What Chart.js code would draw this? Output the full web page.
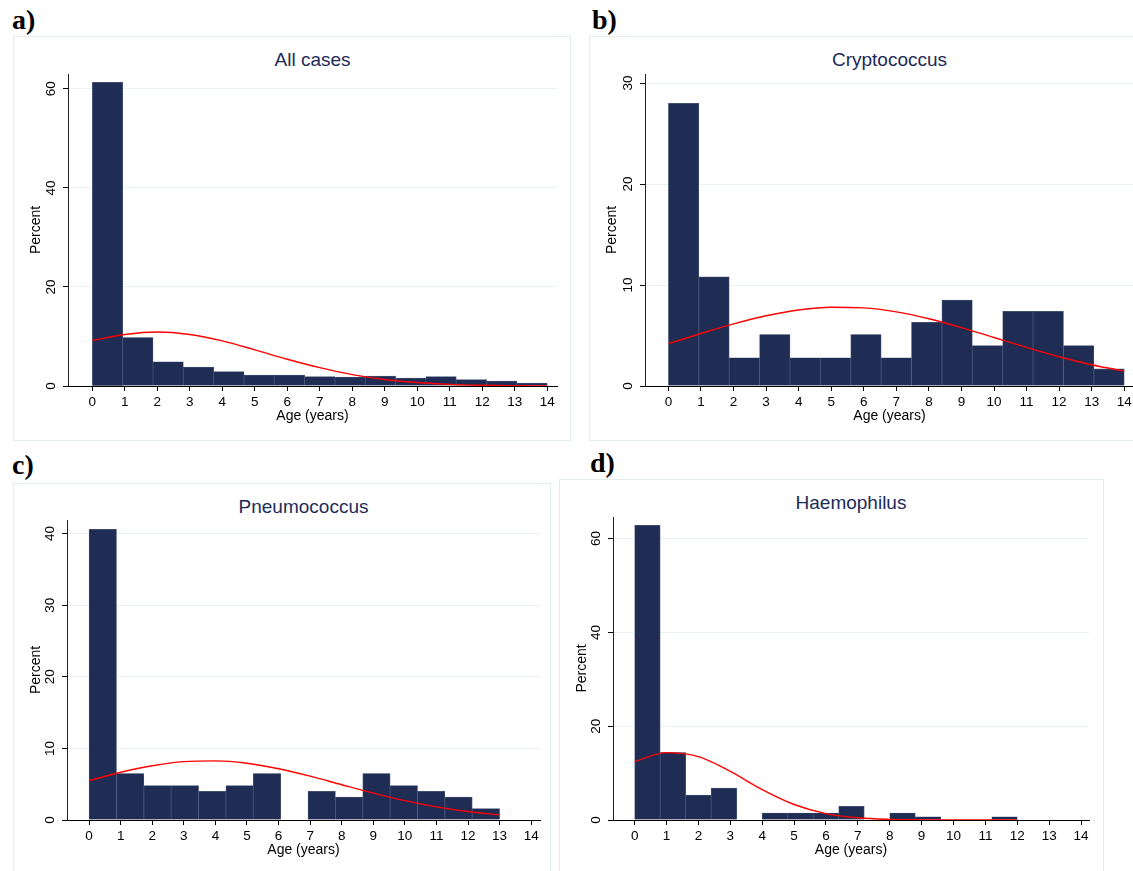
<!DOCTYPE html>
<html lang="en">
<head>
<meta charset="UTF-8">
<title>Age distribution of cases</title>
<script src="https://cdn.jsdelivr.net/npm/chart.js"></script>
<style>
    body { margin: 0; width: 1133px; height: 871px; overflow: hidden; background: #fff; position: relative; font-family: "Liberation Sans", Arial, sans-serif; }
    .frame { position: absolute; border: 1px solid #e3ecec; box-sizing: border-box; }
    .tag { position: absolute; font: bold 28px "Liberation Serif", "Times New Roman", serif; line-height: 28px; color: #000; }
    .title { position: absolute; font-size: 19px; line-height: 22px; color: #1c2b58; text-align: center; white-space: nowrap; }
    canvas { position: absolute; }
</style>
</head>
<body>
<script>
// x ticks (age in years)
const ageTicks = [0, 1, 2, 3, 4, 5, 6, 7, 8, 9, 10, 11, 12, 13, 14];

// percent per bin (15 equal bins from 0 to the oldest age in each group)
const allCasesPct   = [61.3, 9.8, 4.9, 3.8, 2.9, 2.2, 2.2, 1.9, 1.8, 2.0, 1.6, 1.9, 1.3, 1.0, 0.6];
const cryptoPct     = [28.0, 10.8, 2.8, 5.1, 2.8, 2.8, 5.1, 2.8, 6.3, 8.5, 4.0, 7.4, 7.4, 4.0, 1.7];
const pneumoPct     = [40.6, 6.5, 4.8, 4.8, 4.0, 4.8, 6.5, 0, 4.0, 3.2, 6.5, 4.8, 4.0, 3.2, 1.6];
const haemoPct      = [62.8, 14.4, 5.3, 6.8, 0, 1.5, 1.5, 1.5, 2.9, 0, 1.5, 0.7, 0, 0, 0.7];

// oldest age per group (upper edge of the last bin)
const allCasesMax = 14;
const cryptoMax = 14;
const pneumoMax = 13;
const haemoMax = 12;

// normal curve read at each whole year
const allCasesNormal = [9.2, 10.4, 10.9, 10.4, 9.1, 7.3, 5.4, 3.7, 2.3, 1.3, 0.7, 0.33, 0.15, 0.06, 0.02];
const cryptoNormal   = [4.2, 5.2, 6.15, 6.96, 7.53, 7.8, 7.74, 7.34, 6.66, 5.78, 4.8, 3.82, 2.9, 2.11, 1.47];
const pneumoNormal   = [5.5, 6.67, 7.58, 8.15, 8.26, 7.92, 7.16, 6.12, 4.93, 3.76, 2.7, 1.84, 1.18, 0.71];
const haemoNormal    = [12.45, 14.36, 13.51, 10.36, 6.48, 3.31, 1.37, 0.47, 0.13, 0.03, 0.01, 0, 0];

// y ticks
const allCasesTicks = [0, 20, 40, 60];
const cryptoTicks = [0, 10, 20, 30];
const pneumoTicks = [0, 10, 20, 30, 40];
const haemoTicks = [0, 20, 40, 60];

const panels = [
    { tag: 'a)', tagX: 12, tagY: 6, title: 'All cases', titleY: 49, bars: allCasesPct, top: allCasesMax, curve: allCasesNormal, yTicks: allCasesTicks,
      xMin: -0.75, xMax: 14.3, yMax: 63.0, frame: { l: 13, t: 36, r: 571, b: 441 }, area: { l: 68, t: 74, r: 557, b: 386 } },
    { tag: 'b)', tagX: 592, tagY: 6, title: 'Cryptococcus', titleY: 49, bars: cryptoPct, top: cryptoMax, curve: cryptoNormal, yTicks: cryptoTicks,
      xMin: -0.72, xMax: 14.3, yMax: 30.9, frame: { l: 589, t: 36, r: 1160, b: 441 }, area: { l: 645, t: 74, r: 1134, b: 386 } },
    { tag: 'c)', tagX: 12, tagY: 451, title: 'Pneumococcus', titleY: 496, bars: pneumoPct, top: pneumoMax, curve: pneumoNormal, yTicks: pneumoTicks,
      xMin: -0.70, xMax: 14.28, yMax: 41.9, frame: { l: 13, t: 483, r: 551, b: 900 }, area: { l: 67, t: 520, r: 540, b: 820 } },
    { tag: 'd)', tagX: 590, tagY: 449, title: 'Haemophilus', titleY: 492, bars: haemoPct, top: haemoMax, curve: haemoNormal, yTicks: haemoTicks,
      xMin: -0.68, xMax: 14.25, yMax: 64.6, frame: { l: 559, t: 479, r: 1104, b: 900 }, area: { l: 613, t: 517, r: 1089, b: 820 } }
];

Chart.defaults.font.family = '"Liberation Sans", Arial, sans-serif';
Chart.defaults.color = '#000';

const X_AXIS_H = 55;

panels.forEach(p => {
    const f = p.frame, a = p.area;

    const frame = document.createElement('div');
    frame.className = 'frame';
    Object.assign(frame.style, { left: f.l + 'px', top: f.t + 'px', width: (f.r - f.l) + 'px', height: (f.b - f.t) + 'px' });
    document.body.appendChild(frame);

    const tag = document.createElement('div');
    tag.className = 'tag';
    tag.textContent = p.tag;
    Object.assign(tag.style, { left: p.tagX + 'px', top: p.tagY + 'px' });
    document.body.appendChild(tag);

    const title = document.createElement('div');
    title.className = 'title';
    title.textContent = p.title;
    Object.assign(title.style, { left: a.l + 'px', width: (a.r - a.l) + 'px', top: p.titleY + 'px' });
    document.body.appendChild(title);

    const w = f.r - f.l;
    const h = a.b + X_AXIS_H - f.t;
    const canvas = document.createElement('canvas');
    canvas.width = w;
    canvas.height = h;
    Object.assign(canvas.style, { left: f.l + 'px', top: f.t + 'px', width: w + 'px', height: h + 'px' });
    document.body.appendChild(canvas);

    const binW = p.top / p.bars.length;
    const barData = p.bars.map((v, i) => ({ x: (i + 0.5) * binW, y: v }));
    const curveData = p.curve.map((v, i) => ({ x: ageTicks[i], y: v }));

    new Chart(canvas.getContext('2d'), {
        type: 'bar',
        data: {
            datasets: [
                {
                    type: 'line',
                    data: curveData,
                    borderColor: '#ff0000',
                    borderWidth: 1.4,
                    pointRadius: 0,
                    fill: false,
                    cubicInterpolationMode: 'monotone',
                    order: 0
                },
                {
                    data: barData,
                    backgroundColor: '#1f2c54',
                    borderColor: '#4a587a',
                    borderWidth: 0.7,
                    barPercentage: 1,
                    categoryPercentage: 1,
                    order: 1
                }
            ]
        },
        options: {
            responsive: false,
            animation: false,
            layout: { padding: { left: 0, top: a.t - f.t, right: f.r - a.r, bottom: 0 } },
            plugins: { legend: { display: false }, tooltip: { enabled: false } },
            scales: {
                x: {
                    type: 'linear',
                    min: p.xMin,
                    max: p.xMax,
                    offset: false,
                    afterBuildTicks: s => { s.ticks = ageTicks.map(v => ({ value: v })); },
                    afterFit: s => { s.height = X_AXIS_H; },
                    grid: { display: true, drawOnChartArea: false, offset: false, tickLength: 5, tickColor: '#000' },
                    border: { display: true, color: '#000', width: 1 },
                    ticks: { autoSkip: false, maxRotation: 0, padding: 3, color: '#000', font: { size: 13.5 } },
                    title: { display: true, text: 'Age (years)', color: '#000', font: { size: 14 }, padding: { top: 0, bottom: 16 } }
                },
                y: {
                    min: 0,
                    max: p.yMax,
                    afterBuildTicks: s => { s.ticks = p.yTicks.map(v => ({ value: v })); },
                    afterFit: s => { s.width = a.l - f.l; },
                    grid: { color: '#e9f1f2', lineWidth: 1, tickLength: 5, tickColor: '#000' },
                    border: { display: true, color: '#222', width: 1 },
                    ticks: { minRotation: 90, maxRotation: 90, crossAlign: 'center', padding: 4, color: '#000', font: { size: 13.5 } },
                    title: { display: true, text: 'Percent', color: '#000', font: { size: 14 }, padding: { top: 14.6, bottom: 0 } }
                }
            }
        }
    });
});
</script>
</body>
</html>
